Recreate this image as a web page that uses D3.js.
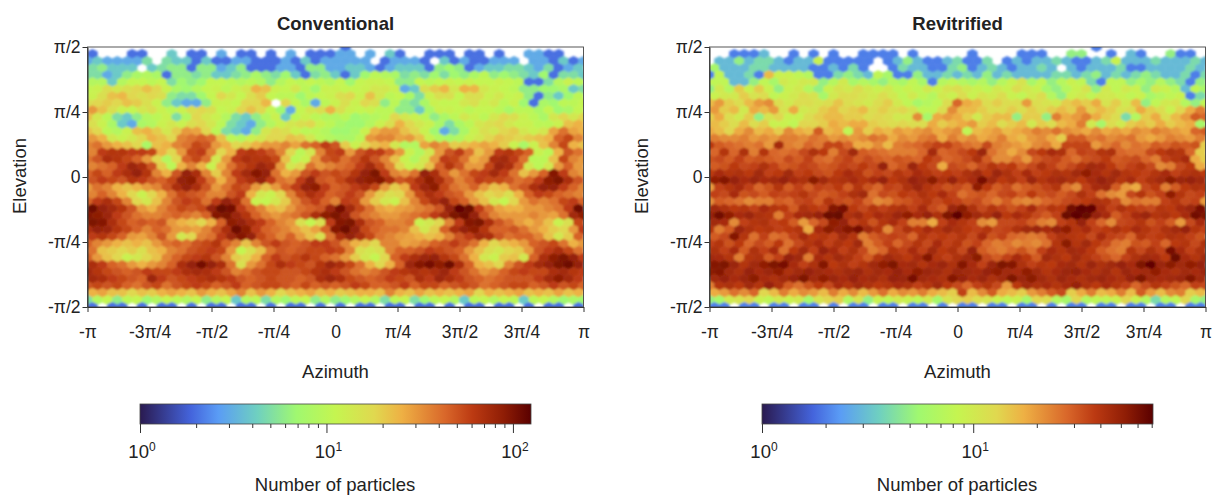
<!DOCTYPE html>
<html>
<head>
<meta charset="utf-8">
<script src="https://cdn.jsdelivr.net/npm/d3@7"></script>
<style>
  body { margin: 0; background: #fff; }
  text { font-family: "Liberation Sans", Arial, sans-serif; fill: #222; }
</style>
</head>
<body>
<svg id="chart" width="1214" height="498"></svg>
<script>
const azimuthLabels = ['-π', '-3π/4', '-π/2', '-π/4', '0', 'π/4', '3π/2', '3π/4', 'π'];
const elevationLabels = ['-π/2', '-π/4', '0', 'π/4', 'π/2'];
const colorStops = [0, 0.13, 0.2, 0.3, 0.4, 0.5, 0.6, 0.67, 0.78, 0.85, 0.93, 1];
const colorRange = ['#2a1a50', '#4464dc', '#5a9cf5', '#6fd0c0', '#a0f870', '#c5f550', '#e0d84f', '#eeb044', '#d9672a', '#bc3a12', '#8f1d05', '#5a0000'];

// rows run top to bottom, odd rows are shifted half a column. 0 = empty bin
const conventional = [
[0,0,0,0,0,0,0,0,0,0, 0,0,0,0,0,0,0,0,0,0, 0,0,0,0,0,0,2,0,0,0, 0,0,0,0,0,0,0,0,0,0, 0,0,0,0,0,0,0,0,0,0, 0],
[2,0,0,0,2,2,0,0,4,0, 2,2,0,3,0,2,2,0,2,0, 3,0,2,2,2,3,3,0,3,0, 4,2,0,0,2,2,2,0,2,2, 0,2,0,0,3,3,2,2,0,0],
[3,4,3,3,3,3,5,0,5,4, 4,2,4,2,2,3,3,2,2,2, 3,2,4,2,3,3,3,3,3,0, 2,3,3,3,2,0,4,2,3,2, 2,3,3,3,0,3,3,2,4,2, 3],
[5,6,4,4,4,0,4,5,6,6, 2,6,6,3,4,6,2,2,2,3, 3,2,6,6,3,3,4,4,3,2, 3,4,4,4,2,6,7,6,2,3, 4,4,5,5,4,3,5,2,3,4],
[5,5,3,4,6,8,9,8,2,6, 6,5,6,4,4,5,6,8,6,5, 7,4,2,5,6,4,2,4,7,10, 9,8,5,6,5,7,5,7,6,8, 10,6,7,6,5,4,7,2,5,5, 4],
[9,9,4,9,11,11,10,11,5,7, 6,7,11,11,10,9,10,9,6,9, 11,10,11,10,9,11,7,11,12,12, 11,6,6,11,10,11,12,11,12,11, 11,12,11,10,2,2,5,9,12,10],
[11,12,16,14,16,18,22,18,12,8, 7,9,11,12,10,12,14,25,22,12, 11,14,10,7,12,12,11,11,12,14, 14,12,3,4,16,20,24,14,25,24, 14,12,11,10,6,6,7,7,8,4, 5],
[12,16,22,24,18,16,18,16,6,5, 5,7,11,18,14,11,16,20,11,10, 10,7,10,11,12,16,18,12,22,14, 10,11,8,5,12,16,16,11,16,16, 12,14,11,12,6,2,6,4,7,10],
[16,18,20,18,22,20,16,12,6,4, 3,3,6,12,12,11,18,18,24,0, 18,11,8,3,10,12,16,12,18,16, 6,10,6,5,8,12,11,11,14,16, 12,14,10,12,7,2,8,7,10,10, 11],
[30,22,16,12,11,14,16,12,10,12, 16,18,16,11,12,18,22,18,11,7, 3,11,14,16,25,16,12,11,12,10, 10,6,6,4,8,12,12,11,10,11, 11,10,8,10,10,8,11,7,8,11],
[22,14,10,5,4,6,9,10,12,5, 9,18,14,12,9,5,4,6,9,12, 4,10,12,10,9,9,10,7,8,9, 10,18,14,12,10,6,8,10,14,12, 10,14,18,16,12,10,8,14,18,14, 18],
[16,12,8,4,3,8,9,12,14,12, 16,18,14,10,5,4,3,6,9,12, 14,16,18,12,10,8,7,7,9,12, 16,25,18,14,12,8,5,8,10,14, 16,18,14,12,12,10,10,12,22,25],
[22,18,10,9,12,22,25,20,14,20, 30,28,18,10,5,4,3,6,14,18, 16,12,10,10,9,7,7,8,12,25, 30,30,22,18,12,7,3,5,8,12, 16,14,18,20,14,12,14,28,40,28, 25],
[30,25,14,12,14,18,25,22,18,35, 40,45,40,22,10,9,12,14,18,18, 22,20,14,10,9,8,8,10,30,35, 35,28,30,22,12,9,8,9,12,14, 18,22,20,18,20,22,25,45,55,35],
[35,40,30,25,22,18,8,22,25,35, 40,55,50,30,25,18,20,25,30,30, 35,28,40,45,60,50,20,12,18,22, 25,14,9,9,28,35,30,20,22,25, 28,25,20,12,8,12,22,35,55,25, 22],
[35,60,65,65,60,60,55,25,18,30, 55,60,35,18,25,60,65,60,50,35, 18,10,14,35,55,60,30,50,60,60, 45,30,12,9,14,30,50,60,40,22, 30,60,65,55,45,12,10,25,50,40],
[40,50,70,65,55,45,30,18,9,18, 45,55,40,14,30,60,70,65,65,55, 22,10,12,30,50,55,40,50,65,50, 35,22,12,9,14,30,60,55,40,25, 30,70,75,60,40,10,10,22,55,35, 30],
[35,40,45,60,80,70,50,20,10,25, 35,25,12,25,40,55,65,80,70,30, 14,18,40,30,35,40,45,60,75,55, 35,18,12,14,22,45,65,50,30,30, 55,80,70,45,14,10,14,30,45,30],
[45,55,45,60,70,85,65,35,25,50, 85,70,35,20,35,60,75,95,85,40, 25,30,50,60,50,55,50,65,85,100, 60,35,30,40,85,70,45,30,40,55, 60,75,60,40,22,30,45,95,60,35, 30],
[50,60,55,50,65,60,50,45,55,85, 90,60,40,25,40,60,70,85,60,40, 35,60,85,50,45,55,70,85,90,95, 70,50,55,70,90,70,50,35,45,60, 55,55,50,40,45,60,90,100,70,50],
[30,40,35,25,22,25,30,35,50,70, 85,70,50,30,40,55,50,30,22,30, 45,60,85,90,60,45,50,60,70,55, 30,20,25,60,80,90,55,40,35,45, 30,22,25,40,50,70,85,85,60,45, 35],
[35,45,35,25,18,12,18,25,40,55, 50,45,35,35,50,60,25,14,12,18, 35,55,70,60,45,50,60,50,30,20, 16,18,30,55,70,60,50,45,30,22, 18,20,16,25,45,60,55,45,40,35],
[45,60,70,55,35,18,14,22,35,50, 60,55,40,60,85,70,40,12,11,14, 20,35,50,60,45,35,60,55,30,20, 14,12,22,35,55,70,85,55,45,30, 22,14,11,18,30,40,35,40,55,60, 45],
[110,85,75,65,50,30,25,35,45,55, 50,55,85,115,105,60,45,35,25,22, 30,40,45,50,80,105,75,55,40,28, 25,28,30,35,40,50,85,120,110,60, 40,28,25,25,30,30,35,40,60,110],
[95,90,80,60,50,40,35,35,40,45, 40,35,45,95,100,80,65,45,35,30, 35,40,50,70,90,100,85,50,40,35, 30,30,35,40,45,60,75,100,110,85, 50,35,30,30,30,35,30,28,40,75, 90],
[100,95,70,55,45,50,45,50,30,25, 22,18,25,45,90,85,70,60,45,35, 30,16,11,16,60,95,100,70,50,45, 35,35,40,12,14,18,35,60,95,100, 70,50,40,30,25,30,22,12,16,55],
[70,85,80,65,55,45,35,45,40,30, 30,28,35,50,70,110,90,60,45,40, 35,28,22,28,45,95,110,85,55,45, 40,40,35,22,14,20,45,70,85,90, 65,45,45,50,40,30,25,20,18,30, 60],
[60,65,55,45,30,28,35,50,30,14, 18,35,40,60,80,95,85,55,45,35, 45,30,22,16,40,70,85,70,55,40, 35,30,28,25,22,25,35,50,60,75, 70,50,40,45,45,35,22,14,20,45],
[45,35,30,25,22,25,22,30,40,45, 40,50,55,65,45,35,22,35,50,60, 50,45,50,60,60,50,35,25,22,18, 35,35,28,30,35,45,50,60,50,40, 25,18,22,25,30,45,50,55,40,25, 30],
[40,22,20,18,20,16,22,25,35,40, 50,55,60,55,30,11,16,22,40,50, 45,50,55,55,60,55,35,16,14,16, 35,45,45,50,60,55,50,45,30,22, 16,14,18,20,30,50,60,70,55,40],
[45,30,22,18,12,14,18,22,35,45, 55,60,65,50,35,20,18,25,45,60, 50,55,65,55,45,40,30,20,14,11, 18,45,60,70,80,85,65,55,40,25, 14,12,20,22,14,45,70,90,100,85, 60],
[70,60,45,40,30,25,30,35,45,70, 85,105,85,70,40,16,30,40,55,70, 60,55,50,65,80,70,55,40,25,18, 25,45,80,95,105,90,110,70,45,25, 22,18,35,50,60,75,85,100,110,85],
[75,65,55,50,45,50,60,55,55,60, 70,75,70,60,50,35,40,50,55,55, 50,50,55,65,70,60,50,40,35,40, 50,60,65,70,65,70,80,60,50,40, 30,35,45,55,60,55,55,70,75,65, 60],
[75,70,60,55,50,45,80,60,50,55, 60,65,70,65,60,50,45,50,55,50, 50,45,50,70,80,70,55,50,45,50, 60,55,50,70,60,80,70,60,50,45, 40,45,50,50,50,60,75,90,75,60],
[50,55,50,55,45,40,50,55,40,50, 55,60,55,45,50,60,45,50,55,55, 50,45,55,45,50,45,50,60,55,45, 45,50,60,45,55,55,45,50,55,50, 40,45,50,55,55,45,50,60,50,55, 45],
[25,28,22,22,18,22,20,25,28,25, 22,30,25,22,28,35,22,30,25,18, 22,25,28,22,25,20,22,25,25,22, 35,25,22,28,22,25,22,25,28,18, 25,22,25,28,22,25,22,28,22,25],
[5,9,11,6,10,11,7,9,11,10, 9,11,6,9,11,4,9,10,5,9, 7,10,11,6,9,6,7,9,11,9, 5,10,11,5,7,10,11,9,4,10, 11,9,11,10,4,10,11,9,7,8, 7],
[2,0,2,2,0,2,0,2,2,0, 2,0,2,2,0,2,2,0,2,0, 2,2,0,2,0,2,0,2,2,0, 2,2,0,2,2,0,2,0,2,2, 0,2,2,0,2,0,2,2,0,2]
];

const revitrified = [
[0,0,0,0,0,0,0,0,0,0, 0,0,0,0,0,0,0,0,0,0, 0,0,0,0,0,0,0,0,0,0, 0,0,0,0,0,0,0,0,0,2, 0,0,0,0,0,0,0,0,0,0, 0],
[0,0,2,2,2,3,0,0,2,0, 2,0,2,0,0,2,2,2,2,0, 2,0,0,0,0,0,2,0,0,0, 0,2,2,2,0,0,5,5,0,0, 2,0,3,2,0,0,5,2,2,0],
[0,3,3,5,3,4,4,3,2,3, 3,9,2,2,2,2,2,0,2,3, 5,3,2,2,3,4,2,2,4,0, 2,3,2,3,3,4,3,2,2,3, 4,9,3,3,3,4,3,3,3,4, 3],
[6,3,3,3,4,4,3,3,3,3, 2,2,3,2,4,2,0,0,2,4, 3,3,2,2,4,5,2,3,4,3, 2,3,3,4,3,0,3,2,3,3, 3,4,2,2,3,3,3,3,4,3],
[2,8,3,3,4,2,16,9,9,8, 7,2,2,4,5,4,3,8,6,2, 2,5,3,3,4,3,4,3,5,3, 4,3,3,3,3,4,4,3,4,5, 3,4,3,4,5,4,3,3,4,2, 4],
[8,8,3,3,5,8,6,10,9,10, 10,5,7,10,6,7,6,5,7,6, 8,6,2,7,8,7,6,7,5,7, 9,11,6,8,5,7,9,8,4,2, 8,8,5,6,5,7,5,4,2,5],
[5,10,7,14,9,14,9,5,9,10, 7,5,9,11,10,12,10,9,10,8, 9,8,10,9,11,12,10,9,8,10, 9,12,10,9,6,5,7,9,11,5, 10,8,10,9,5,10,9,7,3,8, 6],
[9,10,10,14,11,12,8,9,10,12, 11,6,10,12,12,11,10,12,10,8, 10,8,7,10,9,12,9,11,10,12, 9,8,10,12,7,5,9,10,8,10, 10,9,8,9,6,7,8,9,2,4],
[16,20,14,12,16,20,22,12,10,12, 12,11,12,15,12,11,10,12,14,10, 8,6,7,8,12,28,18,16,12,14, 12,12,20,12,11,10,14,16,14,18, 11,14,10,16,5,8,10,11,7,5, 8],
[20,14,16,10,18,16,20,11,18,10, 11,14,16,13,14,16,12,14,12,13, 11,8,8,12,22,16,16,14,12,12, 14,12,14,12,14,16,14,20,14,16, 14,11,12,18,14,12,9,13,18,24],
[14,18,12,10,14,5,11,13,9,9, 12,14,16,16,14,14,12,13,12,10, 10,22,6,18,20,18,14,10,14,16, 16,5,14,14,5,24,18,20,24,18, 14,12,4,7,14,18,12,16,20,30, 28],
[16,14,12,16,12,14,9,9,8,13, 13,14,18,16,18,18,14,13,12,13, 12,12,18,14,16,18,20,14,16,12, 14,16,10,14,12,16,18,24,10,6, 12,10,14,16,14,18,14,16,18,6],
[18,16,13,18,22,16,18,14,22,18, 16,30,16,18,8,20,14,18,16,20, 18,20,22,18,20,22,8,16,18,20, 16,18,20,24,22,26,22,20,18,22, 18,20,18,22,20,24,22,20,18,28, 30],
[24,22,22,24,20,22,20,24,24,22, 26,24,20,22,20,22,26,24,18,22, 20,24,26,18,24,20,22,18,20,24, 18,16,20,22,18,14,30,30,24,26, 22,24,26,20,18,20,24,22,20,24],
[38,30,28,26,24,26,20,45,24,22, 28,25,35,35,28,18,18,22,16,24, 26,28,32,36,36,30,26,24,34,24, 22,20,18,22,24,18,35,35,35,20, 24,28,22,26,24,30,28,32,30,32, 14],
[28,40,28,42,24,40,28,26,28,34, 42,38,24,34,46,30,28,26,24,24, 24,28,45,28,30,34,38,48,26,22, 18,22,34,38,44,42,28,36,34,40, 42,28,26,26,34,38,42,40,28,14],
[32,34,30,36,30,32,30,28,34,30, 36,28,26,32,36,30,34,30,28,32, 30,28,38,34,28,30,34,42,30,22, 22,26,20,30,34,36,30,26,32,34, 38,30,32,34,28,24,36,40,44,18, 14],
[30,32,38,34,36,42,36,30,32,36, 34,30,32,36,34,38,34,50,28,32, 48,38,34,18,34,32,28,34,40,36, 38,30,34,42,36,30,34,40,46,44, 38,32,36,40,34,22,24,34,38,18],
[38,44,40,42,38,46,36,38,46,36, 38,34,32,38,44,40,32,36,34,40, 36,44,40,36,38,36,42,46,38,48, 42,36,44,36,38,42,40,46,52,44, 40,46,40,38,36,40,44,36,40,42, 38],
[52,56,50,44,48,44,46,50,44,42, 54,46,40,42,44,40,44,50,38,42, 50,46,54,42,50,40,44,60,46,38, 42,36,48,40,44,46,42,38,44,50, 46,40,44,36,42,46,54,48,50,46],
[20,36,40,44,36,28,32,40,30,36, 30,36,34,38,30,40,32,28,36,34, 42,48,40,36,32,34,30,52,38,30, 34,26,30,32,36,40,26,22,36,44, 46,30,20,18,34,38,24,30,38,42, 40],
[36,34,44,32,34,30,36,34,36,40, 34,30,32,36,42,46,26,34,32,38, 36,42,38,44,36,26,30,32,28,34, 36,30,38,32,34,30,34,42,36,26, 22,20,34,40,32,36,52,40,34,36],
[22,30,28,26,22,24,24,30,28,34, 36,30,40,34,32,36,28,22,24,30, 32,36,40,34,38,36,32,34,28,24, 30,24,22,24,28,30,34,36,38,42, 40,34,22,26,24,24,36,40,34,36, 20],
[46,42,38,40,36,44,40,38,30,42, 38,36,56,60,38,34,40,36,40,42, 36,44,34,30,48,54,42,34,40,36, 32,36,44,34,40,38,62,70,68,44, 36,42,38,36,34,40,38,44,48,60],
[50,62,52,44,48,42,40,24,36,44, 46,50,64,66,42,46,38,44,42,48, 52,44,50,42,58,70,52,46,42,50, 38,44,40,34,30,36,64,70,66,50, 44,30,36,44,48,40,42,38,44,62, 58],
[46,44,22,36,40,42,36,38,30,20, 28,34,52,50,36,40,32,40,44,36, 24,24,18,36,44,40,36,22,20,34, 34,36,30,24,22,36,40,50,36,28, 22,34,36,40,32,36,30,20,34,44],
[40,24,30,48,42,38,40,36,38,40, 18,44,54,50,56,60,46,40,22,34, 42,38,44,40,46,42,38,36,40,34, 36,42,46,48,44,50,52,40,44,36, 38,42,38,44,40,36,42,46,50,40, 36],
[30,34,56,40,26,36,26,28,36,44, 38,40,36,46,40,24,30,34,36,34, 28,40,36,38,36,40,34,44,32,36, 28,26,24,26,36,42,40,38,34,44, 36,34,28,40,36,38,42,40,36,32],
[36,40,32,38,28,34,30,38,26,34, 40,44,36,42,38,46,24,30,36,28, 34,40,34,44,36,40,32,36,28,24, 26,22,24,22,26,40,54,40,46,38, 34,26,24,32,30,36,28,38,40,34, 42],
[42,36,44,30,42,36,44,26,38,46, 36,50,44,36,42,34,24,28,40,36, 44,36,46,38,42,34,50,30,26,24, 28,32,26,36,44,40,46,44,38,30, 26,24,40,34,42,36,60,44,36,42],
[46,44,40,24,40,42,30,36,50,46, 24,44,40,46,42,36,30,40,46,42, 38,44,56,40,36,42,46,54,34,30, 36,44,38,30,46,42,38,46,40,36, 32,28,36,42,46,44,38,64,44,40, 46],
[56,58,48,40,46,52,58,60,44,36, 42,56,38,42,36,40,46,52,58,44, 46,40,44,48,42,56,44,36,48,58, 56,42,36,40,38,44,46,40,48,42, 46,50,44,58,68,48,54,46,52,50],
[54,56,46,42,50,44,48,52,42,46, 50,46,44,42,46,48,42,46,44,50, 44,52,48,46,42,48,46,44,50,52, 46,44,52,46,40,44,48,50,44,42, 46,40,48,44,46,52,44,42,46,44, 48],
[46,50,44,48,54,44,42,46,50,58, 46,52,48,44,50,44,46,42,50,48, 60,46,44,42,56,50,44,48,42,46, 58,48,54,46,42,48,44,42,46,48, 44,42,50,58,46,44,46,48,56,46],
[24,40,42,38,46,40,50,42,30,26, 32,38,34,44,40,46,42,38,40,44, 42,36,40,46,38,34,28,36,40,34, 20,38,46,42,44,40,44,50,42,38, 44,40,36,28,34,40,36,32,28,36, 34],
[18,20,26,22,28,13,16,24,18,22, 20,16,24,18,22,16,20,26,18,22, 20,24,18,16,14,36,16,22,30,18, 16,14,20,24,30,34,14,18,24,16, 18,24,16,30,20,16,22,24,14,16],
[5,6,10,11,13,9,8,10,9,10, 6,11,13,14,7,11,5,9,8,10, 9,8,10,6,11,13,14,12,11,9, 8,9,6,13,12,7,6,13,7,8, 8,9,13,9,7,4,7,8,13,6, 5],
[2,2,0,2,2,0,2,2,0,2, 2,0,2,0,2,2,0,2,2,0, 2,2,0,2,0,2,2,0,2,2, 0,2,2,0,2,0,2,2,0,2, 2,0,2,2,0,2,2,0,2,2]
];

const conventionalMax = 125;
const revitrifiedMax = 71;
const conventionalMinor = [2, 3, 4, 5, 6, 7, 8, 9, 10, 20, 30, 40, 50, 60, 70, 80, 90, 100];
const revitrifiedMinor = [2, 3, 4, 5, 6, 7, 8, 9, 10, 20, 30, 40, 50, 60, 70];
const majorTicks = [1, 10, 100];

const svg = d3.select('#chart');
const defs = svg.append('defs');
defs.append('filter').attr('id', 'soft')
  .attr('x', '-2%').attr('y', '-2%').attr('width', '104%').attr('height', '104%')
  .append('feGaussianBlur').attr('stdDeviation', 0.8);

const colormap = d3.scaleLinear().domain(colorStops).range(colorRange).clamp(true);

const drawPanel = (opts) => {
  const { left, title, rows, maxCount, minor, barLeft, id } = opts;
  const width = 496, top = 47, height = 260;
  const g = svg.append('g');

  const x = d3.scaleLinear().domain([-Math.PI, Math.PI]).range([left, left + width]);
  const y = d3.scaleLinear().domain([-Math.PI / 2, Math.PI / 2]).range([top + height, top]);
  const dAz = 2 * Math.PI / 50;
  const dEl = Math.PI / (rows.length - 1);
  const t = d3.scaleLog().domain([1, maxCount]).range([0, 1]);
  const hexW = x(dAz) - x(0);
  const rowH = y(0) - y(dEl);
  const tip = rowH * 2 / 3;

  defs.append('clipPath').attr('id', 'clip' + id)
    .append('rect').attr('x', left).attr('y', top).attr('width', width).attr('height', height);

  const bins = [];
  rows.forEach((row, j) => row.forEach((count, i) => {
    if (count > 0) bins.push({ az: -Math.PI + (i + (j % 2 ? 0.5 : 0)) * dAz, el: Math.PI / 2 - j * dEl, count });
  }));

  const hexPath = (d) => {
    const cx = x(d.az), cy = y(d.el), w = hexW / 2, s = tip / 2;
    return `M${cx},${cy - tip}L${cx + w},${cy - s}L${cx + w},${cy + s}L${cx},${cy + tip}L${cx - w},${cy + s}L${cx - w},${cy - s}Z`;
  };

  g.append('g').attr('clip-path', `url(#clip${id})`)
    .append('g').attr('filter', 'url(#soft)')
    .selectAll('path').data(bins).enter().append('path')
    .attr('d', hexPath)
    .attr('fill', d => colormap(t(d.count)))
    .attr('stroke', d => colormap(t(d.count)))
    .attr('stroke-width', 0.6);

  // frame and axes
  g.append('rect').attr('x', left).attr('y', top).attr('width', width).attr('height', height)
    .attr('fill', 'none').attr('stroke', '#444').attr('stroke-width', 0.9);

  const xTicks = azimuthLabels.map((_, i) => -Math.PI + i * Math.PI / 4);
  const yTicks = elevationLabels.map((_, i) => -Math.PI / 2 + i * Math.PI / 4);

  const xAxis = g.append('g').attr('transform', `translate(0,${top + height})`)
    .call(d3.axisBottom(x).tickValues(xTicks).tickSize(5).tickPadding(14).tickSizeOuter(0)
      .tickFormat((d, i) => azimuthLabels[i]));
  const yAxis = g.append('g').attr('transform', `translate(${left},0)`)
    .call(d3.axisLeft(y).tickValues(yTicks).tickSize(5).tickPadding(2).tickSizeOuter(0)
      .tickFormat((d, i) => elevationLabels[i]));
  [xAxis, yAxis].forEach(a => {
    a.attr('font-family', null).attr('font-size', 17.5);
    a.selectAll('line').attr('stroke', '#333');
    a.select('.domain').attr('stroke', '#333');
  });

  const center = left + width / 2;
  g.append('text').attr('x', center).attr('y', 30).attr('text-anchor', 'middle')
    .attr('font-size', 18.5).attr('font-weight', 'bold').text(title);
  g.append('text').attr('x', center).attr('y', 378).attr('text-anchor', 'middle')
    .attr('font-size', 18.5).text('Azimuth');
  g.append('text').attr('transform', `translate(${left - 62},${top + height / 2 - 1}) rotate(-90)`)
    .attr('text-anchor', 'middle').attr('font-size', 18.5).text('Elevation');

  // colour bar
  const barW = 391, barTop = 404, barH = 20;
  const grad = defs.append('linearGradient').attr('id', 'grad' + id);
  colorStops.forEach((s, i) => grad.append('stop').attr('offset', s).attr('stop-color', colorRange[i]));
  g.append('rect').attr('x', barLeft).attr('y', barTop).attr('width', barW).attr('height', barH)
    .attr('fill', `url(#grad${id})`).attr('stroke', '#444').attr('stroke-width', 0.8);

  const bar = d3.scaleLog().domain([1, maxCount]).range([barLeft, barLeft + barW]);
  const barAxis = g.append('g').attr('transform', `translate(0,${barTop + barH})`)
    .call(d3.axisBottom(bar).tickValues([1].concat(minor)).tickSize(4).tickFormat('').tickSizeOuter(0));
  barAxis.select('.domain').remove();
  barAxis.selectAll('line').attr('stroke', '#333');
  barAxis.selectAll('.tick').filter(d => majorTicks.includes(d)).select('line').attr('y2', 9);

  majorTicks.filter(d => d <= maxCount).forEach((d, i) => {
    const label = g.append('text').attr('x', bar(d) + 2).attr('y', 458).attr('text-anchor', 'middle').attr('font-size', 18.5);
    label.append('tspan').text('10');
    label.append('tspan').attr('dy', -7).attr('font-size', 12).text(i);
  });
  g.append('text').attr('x', barLeft + 195).attr('y', 491).attr('text-anchor', 'middle')
    .attr('font-size', 18.5).text('Number of particles');
};

drawPanel({ id: 'a', left: 87.5, title: 'Conventional', rows: conventional, maxCount: conventionalMax, minor: conventionalMinor, barLeft: 140 });
drawPanel({ id: 'b', left: 709.5, title: 'Revitrified', rows: revitrified, maxCount: revitrifiedMax, minor: revitrifiedMinor, barLeft: 762 });
</script>
</body>
</html>
